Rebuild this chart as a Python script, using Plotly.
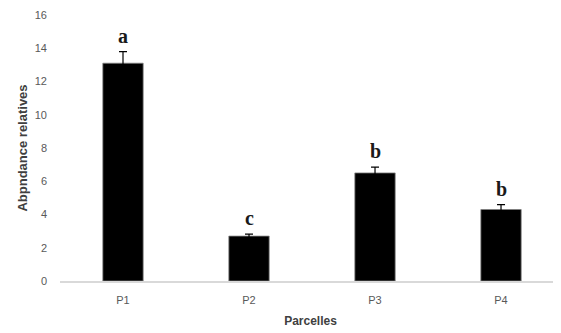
import plotly.graph_objects as go

categories = ["P1", "P2", "P3", "P4"]
values = [13.1, 2.7, 6.5, 4.3]
errors = [0.7, 0.12, 0.35, 0.3]
letters = ["a", "c", "b", "b"]
y_ticks = [0, 2, 4, 6, 8, 10, 12, 14, 16]

fig = go.Figure()
fig.add_trace(go.Bar(
    x=categories, y=values,
    marker=dict(color="black", line=dict(color="#7f7f7f", width=0.8)),
    error_y=dict(type="data", array=errors, visible=True, color="black",
                 thickness=1.2, width=4),
    width=0.32,
))

for c, v, e, t in zip(categories, values, errors, letters):
    fig.add_annotation(x=c, y=v + e, text=f"<b>{t}</b>", showarrow=False,
                       yanchor="bottom", yshift=3,
                       font=dict(family="Liberation Serif", size=20, color="#1a1a1a"))

fig.update_layout(
    width=553, height=325,
    margin=dict(l=52, r=0, t=7, b=52),
    plot_bgcolor="white", paper_bgcolor="white",
    showlegend=False,
    xaxis=dict(range=[-0.5, 3.476], showgrid=False, showline=True,
               linecolor="#d9d9d9", linewidth=1.5, ticks="", ticklabelstandoff=8,
               tickfont=dict(family="Liberation Sans", size=11, color="#595959"),
               title=dict(text="<b>Parcelles</b>", standoff=12,
                          font=dict(family="Liberation Sans", size=12, color="#404040"))),
    yaxis=dict(range=[0, 16], tickvals=y_ticks, showgrid=False, showline=False,
               zeroline=False, ticks="", ticklabelstandoff=12,
               tickfont=dict(family="Liberation Sans", size=11, color="#595959"),
               title=dict(text="<b>Abpndance relatives</b>", standoff=4,
                          font=dict(family="Liberation Sans", size=13, color="#404040"))),
)

fig.write_html("out.html")
